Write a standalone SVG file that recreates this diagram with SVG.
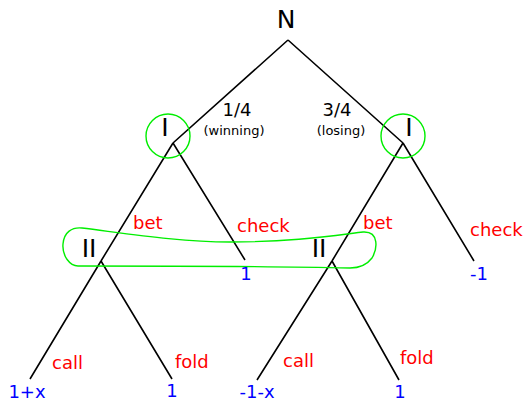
<svg xmlns="http://www.w3.org/2000/svg" width="528" height="403" viewBox="0 0 528 403">
<style>
text{font-family:"DejaVu Sans",sans-serif}
.n{font-size:25px;fill:#000;text-anchor:middle}
.p{font-size:18px;fill:#000;text-anchor:middle}
.s{font-size:13px;fill:#000;text-anchor:middle}
.a{font-size:18px;fill:#ff0000}
.v{font-size:18px;fill:#0000ff;text-anchor:middle}
.e{stroke:#000;stroke-width:1.6;fill:none}
.g{stroke:#00ee00;stroke-width:1.4;fill:none}
</style>
<rect width="528" height="403" fill="#fff"/>
<g id="edges">
<path class="e" d="M288 40L173 143M288 40L403 143"/>
<path class="e" d="M173 143L101 261M173 143L245 260"/>
<path class="e" d="M403 143L332 261M403 143L474 261"/>
<path class="e" d="M101 261L30 379M101 261L172 379"/>
<path class="e" d="M332 261L257 380M332 261L399 380"/>
</g>
<g id="root"><text class="n" x="286" y="28">N</text></g>
<g id="p1l"><circle class="g" cx="168" cy="136" r="22"/><text class="n" x="165" y="136">I</text></g>
<g id="p1r"><circle class="g" cx="403" cy="136" r="22"/><text class="n" x="409" y="136">I</text></g>
<g id="chance-labels">
<text class="p" x="237" y="116">1/4</text><text class="s" x="234" y="135">(winning)</text>
<text class="p" x="337" y="116">3/4</text><text class="s" x="341" y="135">(losing)</text>
</g>
<g id="infoset"><path class="g" d="M82 228C130 234 180 242 230 242C290 242 330 236 363 232C380 231 377 250 372 258C366 266 358 268 350 268C260 266 150 266 78 266C70 266 62 256 63 244C64 232 72 227 82 228Z"/></g>
<g id="p2l"><text class="n" x="89" y="257">II</text></g>
<g id="p2r"><text class="n" x="319" y="257">II</text></g>
<g id="action-labels">
<text class="a" x="133" y="229">bet</text>
<text class="a" x="237" y="232">check</text>
<text class="a" x="363" y="229">bet</text>
<text class="a" x="470" y="236">check</text>
<text class="a" x="52" y="369">call</text>
<text class="a" x="175" y="368">fold</text>
<text class="a" x="283" y="367">call</text>
<text class="a" x="400" y="364">fold</text>
</g>
<g id="payoffs">
<text class="v" x="246" y="280">1</text>
<text class="v" x="479" y="280">-1</text>
<text class="v" x="27" y="398">1+x</text>
<text class="v" x="172" y="397">1</text>
<text class="v" x="257" y="398">-1-x</text>
<text class="v" x="400" y="398">1</text>
</g>
</svg>
